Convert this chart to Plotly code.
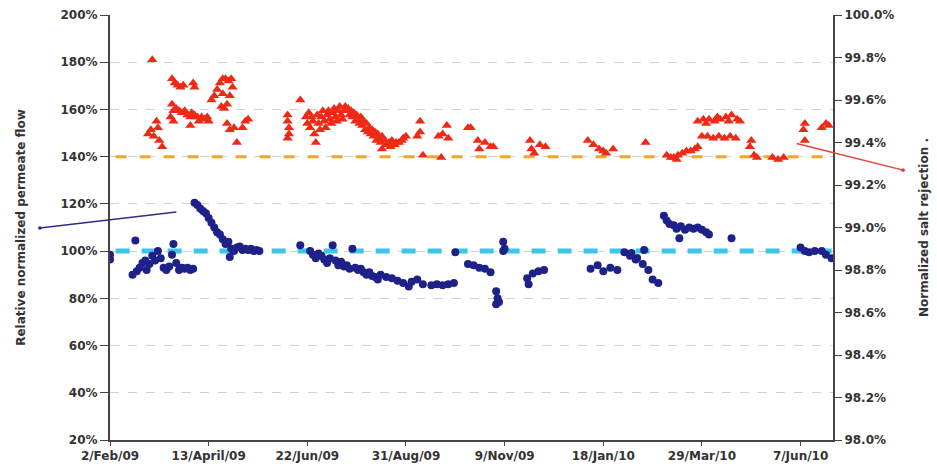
import pandas as pd
import plotly.graph_objects as go

start = pd.Timestamp("2009-02-02")
end = pd.Timestamp("2010-06-30")

# x tick dates (every 70 days) and their labels
tick_dates = ["2009-02-02", "2009-04-13", "2009-06-22", "2009-08-31",
              "2009-11-09", "2010-01-18", "2010-03-29", "2010-06-07"]
tick_labels = ["2/Feb/09", "13/April/09", "22/Jun/09", "31/Aug/09",
               "9/Nov/09", "18/Jan/10", "29/Mar/10", "7/Jun/10"]

# normalized salt rejection (%), right axis -- days since 2/Feb/09
rej_day = [30, 27, 29, 31, 33, 34, 35, 37, 44, 46, 48, 50, 52, 59, 60,
           43, 44, 45, 47, 49, 51, 53, 55, 57, 58, 60, 62, 63, 65, 67, 69, 70, 57, 45,
           72, 74, 76, 78, 80, 82, 84, 86, 87, 85, 83, 81, 79, 80, 83, 85, 88, 90, 94, 96, 98,
           126, 126, 127, 127, 126, 135,
           139, 140, 141, 142, 143, 144, 145, 146, 147, 148, 149, 150, 151, 152, 153, 154,
           155, 156, 157, 158, 159, 160, 161, 162, 163, 164, 165, 166, 167, 168, 169, 170,
           171, 172, 173, 174, 175, 176, 177, 178, 179, 180, 181, 182, 183, 184, 185, 186,
           187, 188, 189, 190, 191, 192, 193,
           195, 196, 198, 199, 200, 202, 203, 205, 207, 208, 210, 193,
           220, 220, 218, 222, 233, 236, 239, 240, 235, 254,
           256, 261, 262, 266, 270, 272,
           298, 299, 305, 309, 301,
           339, 343, 347, 350, 357, 352, 380,
           398, 400, 403, 406, 409, 412, 415, 417, 395, 402,
           417, 421, 425, 429, 433, 437, 441, 445, 447, 423, 431, 439,
           420, 424, 428, 432, 436, 440, 444,
           455, 454, 457, 459, 470, 474, 478,
           493, 492, 493, 505, 508, 510]
rej_val = [99.79, 99.44, 99.46, 99.43, 99.50, 99.47, 99.41, 99.38, 99.70, 99.68, 99.67, 99.66, 99.67, 99.68, 99.66,
           99.52, 99.58, 99.55, 99.56, 99.55, 99.54, 99.55, 99.53, 99.52, 99.54, 99.53, 99.52, 99.50, 99.52, 99.51, 99.52, 99.50, 99.48, 99.50,
           99.60, 99.62, 99.65, 99.68, 99.70, 99.70, 99.69, 99.70, 99.66, 99.62, 99.58, 99.56, 99.57, 99.63, 99.49, 99.46, 99.47, 99.40, 99.47, 99.50, 99.51,
           99.53, 99.50, 99.47, 99.44, 99.42, 99.60,
           99.52, 99.49, 99.54, 99.47, 99.52, 99.50, 99.44, 99.40, 99.53, 99.49, 99.46, 99.52, 99.55, 99.50, 99.47, 99.53,
           99.55, 99.51, 99.49, 99.54, 99.56, 99.52, 99.50, 99.55, 99.57, 99.53, 99.51, 99.55, 99.57, 99.55, 99.56, 99.53,
           99.55, 99.52, 99.54, 99.50, 99.53, 99.51, 99.49, 99.52, 99.48, 99.50, 99.46, 99.49, 99.45, 99.47, 99.44, 99.46,
           99.43, 99.45, 99.41, 99.44, 99.42, 99.40, 99.43,
           99.41, 99.39, 99.40, 99.38, 99.41, 99.39, 99.40, 99.40, 99.41, 99.42, 99.43, 99.37,
           99.50, 99.45, 99.43, 99.34, 99.43, 99.44, 99.48, 99.42, 99.33, 99.47,
           99.47, 99.41, 99.37, 99.40, 99.38, 99.38,
           99.41, 99.37, 99.39, 99.38, 99.35,
           99.41, 99.39, 99.37, 99.36, 99.37, 99.35, 99.40,
           99.33, 99.33, 99.34, 99.35, 99.36, 99.36, 99.37, 99.38, 99.34, 99.32,
           99.50, 99.51, 99.51, 99.50, 99.51, 99.52, 99.53, 99.51, 99.50, 99.49, 99.52, 99.50,
           99.43, 99.43, 99.42, 99.43, 99.42, 99.43, 99.42,
           99.41, 99.38, 99.34, 99.33, 99.33, 99.32, 99.33,
           99.49, 99.46, 99.41, 99.47, 99.49, 99.48]

# relative normalized permeate flow (%), left axis
flow_day = [0, 0, 18, 16, 19, 21, 23, 25, 28, 26, 30, 32,
            34, 36, 38, 40, 42, 44, 45, 47, 49, 51, 53, 55, 57, 59,
            60, 62, 64, 66, 68, 70, 72, 74, 76, 78, 80, 82, 84, 86, 88, 90, 92, 94, 96, 98,
            100, 102, 104, 106, 85, 135,
            142, 144, 146, 148, 150, 152, 154, 156, 158, 160, 162, 164, 166, 168, 170, 172,
            174, 176, 178, 180, 182, 184, 186, 188, 190,
            192, 196, 200, 204, 208, 212, 214, 218, 222, 228, 232, 236, 240, 244, 245,
            254, 258, 262, 266, 270, 274, 275, 274, 276, 279, 279, 280,
            296, 300, 304, 308, 297,
            341, 346, 350, 355, 360, 365, 369, 373, 378, 382, 370, 374, 379, 385, 389,
            393, 395, 397, 400, 402, 405, 408, 411, 414, 417, 420, 423, 425, 404, 441,
            490, 493, 496, 500, 505, 508, 512]
flow_val = [98.5, 96.5, 104.5, 90, 91.5, 93, 95, 96, 94.5, 92, 98, 96,
            100, 97, 93, 92, 93.5, 98.5, 103, 95, 92, 93, 92.5, 93, 92, 92.5,
            120.5, 119.5, 118, 117, 116, 114, 112, 110, 108, 107, 105, 103, 104, 101, 100, 101.5, 102, 100.5, 101, 100.5,
            101, 100, 100.5, 100, 97.5, 102.5,
            100, 98.5, 97, 99, 98, 96.5, 95, 97, 102.5, 96, 94, 95.5, 93.5, 94, 92.5, 101,
            93, 92, 92.5, 91, 90, 91, 89.5, 89, 88,
            90, 89, 88.5, 87.5, 86.5, 85, 87, 88, 86, 85.5, 86, 85.5, 86, 86.5, 99.5,
            94.5, 94, 93, 92.5, 91, 83, 80, 77.5, 78.5, 104, 100, 101,
            88.5, 90.5, 91.5, 92, 86,
            92.5, 94, 91.5, 93, 92, 99.5, 98, 96.5, 94.5, 92, 99.2, 97.1, 100.5, 88, 86.5,
            115, 113, 111.5, 111, 109.5, 110.5, 109, 110, 109.5, 110, 109, 108, 107, 105.5, 105.5,
            101.5, 100, 99.5, 100, 100, 98.5, 97]

# target lines (left axis)
flow_target = 100
rej_target_line = 140

rej_dates = start + pd.to_timedelta(rej_day, unit="D")
flow_dates = start + pd.to_timedelta(flow_day, unit="D")
line_x = [start + pd.Timedelta(days=4), end]

fig = go.Figure()

fig.add_trace(go.Scatter(
    x=line_x, y=[rej_target_line] * 2, mode='lines',
    line=dict(color='#F2A52B', width=3, dash='11px,13px'),
    showlegend=False
))
fig.add_trace(go.Scatter(
    x=line_x, y=[flow_target] * 2, mode='lines',
    line=dict(color='#3CC6EA', width=5, dash='14px,12px'),
    showlegend=False
))
fig.add_trace(go.Scatter(
    x=flow_dates, y=flow_val, mode='markers',
    marker=dict(symbol='circle', size=8, color='#1E2288'),
    showlegend=False
))
fig.add_trace(go.Scatter(
    x=rej_dates, y=rej_val, mode='markers', yaxis='y2',
    marker=dict(symbol='triangle-up', size=9, color='#EE2A16'),
    showlegend=False
))

axis_font = dict(family='DejaVu Sans', size=12, color='#333333', weight='bold')
title_font = dict(family='DejaVu Sans', size=12, color='#333333', weight='bold')

fig.update_layout(
    width=937, height=468,
    margin=dict(l=110, r=104, t=15, b=28, autoexpand=False),
    paper_bgcolor='white', plot_bgcolor='white',
    font=axis_font,
    xaxis=dict(
        type='date', range=[start, end],
        tickvals=tick_dates, ticktext=tick_labels,
        showline=True, linecolor='#444444', linewidth=2,
        ticks='outside', ticklen=4, tickcolor='#444444',
        showgrid=False, zeroline=False, tickfont=axis_font
    ),
    yaxis=dict(
        range=[20, 200], dtick=20, ticksuffix='%',
        showline=True, linecolor='#444444', linewidth=2,
        ticks='outside', ticklen=8, tickcolor='#444444',
        showgrid=True, gridcolor='#d0d0d0', griddash='dash', gridwidth=1,
        zeroline=False, tickfont=axis_font, automargin=False,
        title=dict(text='Relative normalized permeate flow',
                   font=title_font, standoff=32)
    ),
    yaxis2=dict(
        range=[98, 100], dtick=0.2, tickformat='.1f', ticksuffix='%',
        overlaying='y', side='right',
        showline=True, linecolor='#444444', linewidth=2,
        ticks='outside', ticklen=7, tickcolor='#444444',
        showgrid=False, zeroline=False, tickfont=axis_font, automargin=False,
        title=dict(text='Normalized salt rejection .',
                   font=title_font, standoff=26)
    ),
    annotations=[
        dict(xref='paper', yref='paper', x=-0.097, y=0.499, text='',
             showarrow=True, arrowhead=6, arrowsize=0.6, arrowwidth=1.5,
             arrowcolor='#2A2E8C', ax=138, ay=-16),
        dict(xref='paper', yref='paper', x=1.097, y=0.635, text='',
             showarrow=True, arrowhead=6, arrowsize=0.6, arrowwidth=1.5,
             arrowcolor='#E8403A', ax=-108, ay=-27),
    ]
)

# drop the default page margin so the figure sits at the window's top-left corner
fig.write_html("out.html", config={'displayModeBar': False},
               post_script="document.body.style.margin = '0px';")
